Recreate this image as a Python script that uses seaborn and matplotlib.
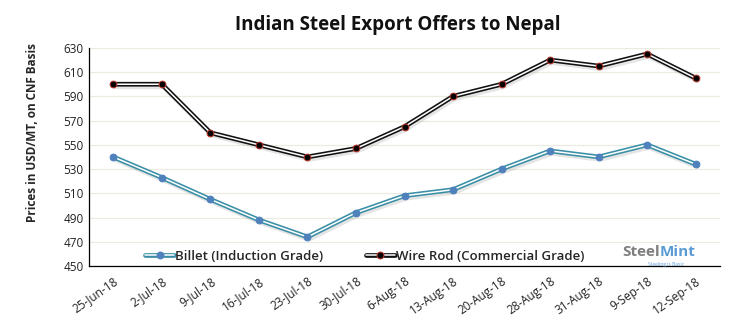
import matplotlib
matplotlib.use("Agg")
import matplotlib.pyplot as plt
import matplotlib.patheffects as pe
from matplotlib.lines import Line2D
import seaborn as sns
import pandas as pd

dates = ["25-Jun-18", "2-Jul-18", "9-Jul-18", "16-Jul-18", "23-Jul-18", "30-Jul-18",
         "6-Aug-18", "13-Aug-18", "20-Aug-18", "28-Aug-18", "31-Aug-18", "9-Sep-18",
         "12-Sep-18"]
billet = [540, 523, 505, 488, 474, 494, 508, 513, 530, 545, 540, 550, 534]
wire_rod = [600, 600, 560, 550, 540, 547, 565, 590, 600, 620, 615, 625, 605]
yticks = list(range(450, 631, 20))

df = pd.DataFrame({"date": dates, "idx": range(len(dates)),
                   "billet": billet, "wire_rod": wire_rod})

sns.set_theme(style="white")
plt.rcParams["font.family"] = ["Open Sans", "DejaVu Sans"]

fig = plt.figure(figsize=(7.32, 3.28), dpi=100)
ax = fig.add_axes([0.1216, 0.189, 0.862, 0.665])

shadow = [pe.SimpleLineShadow(offset=(1.2, -1.8), shadow_color="0.6", alpha=0.25), pe.Normal()]

series = [
    ("billet", "#3A8FA6", "#4F81BD", "#4F81BD", "Billet (Induction Grade)"),
    ("wire_rod", "#111111", "#000000", "#C0392B", "Wire Rod (Commercial Grade)"),
]
handles = []
for col, lc, mfc, mec, label in series:
    sns.lineplot(data=df, x="idx", y=col, ax=ax, color=lc, linewidth=3.4,
                 path_effects=shadow, zorder=3, legend=False)
    sns.lineplot(data=df, x="idx", y=col, ax=ax, color="white", linewidth=1.1,
                 zorder=4, legend=False)
    sns.scatterplot(data=df, x="idx", y=col, ax=ax, color=mfc, edgecolor=mec,
                    linewidth=0.7, s=24, zorder=5, legend=False)
    h = (Line2D([], [], color=lc, lw=3.4),
         Line2D([], [], color="white", lw=1.1),
         Line2D([], [], ls="none", marker="o", ms=5, mfc=mfc, mec=mec, mew=0.7))
    handles.append((h, label))

ax.set_xlim(-0.5, len(dates) - 0.5)
ax.set_ylim(450, 630)
ax.set_yticks(yticks)
ax.set_xticks(range(len(dates)))
ax.set_xticklabels(dates, rotation=35, ha="right", rotation_mode="anchor")
ax.tick_params(axis="both", labelsize=8.5, colors="#222222", length=0, pad=4)
ax.tick_params(axis="x", pad=6)
ax.set_xlabel("")
ax.set_ylabel("Prices in USD/MT, on CNF Basis", fontsize=8.5, fontweight="bold")
ax.yaxis.set_label_coords(-0.080, 0.61)
ax.grid(axis="y", color="#ECEBE2", linewidth=0.9, zorder=0)
ax.set_axisbelow(True)
for s in ("top", "right"):
    ax.spines[s].set_visible(False)
for s in ("left", "bottom"):
    ax.spines[s].set_color("black")
    ax.spines[s].set_linewidth(0.9)

ax.legend([h for h, _ in handles], [l for _, l in handles], loc="lower left",
          bbox_to_anchor=(0.07, -0.04), ncol=2, frameon=False,
          handlelength=2.2, handletextpad=0.1, columnspacing=3.2,
          prop={"weight": "semibold", "size": 9.5})

fig.text(0.543, 0.925, "Indian Steel Export Offers to Nepal", ha="center", va="center",
         fontsize=13.5, fontweight="bold", color="#111111")

# brand mark in the lower right corner
ax.text(0.905, 0.065, "Steel", transform=ax.transAxes, ha="right", va="center",
        fontsize=11, fontweight="bold", color="#7F7F7F")
ax.text(0.905, 0.065, "Mint", transform=ax.transAxes, ha="left", va="center",
        fontsize=11, fontweight="bold", color="#5B9BD5")
ax.text(0.915, 0.005, "Steeling is Basic", transform=ax.transAxes, ha="center",
        va="center", fontsize=3.5, color="#5B9BD5")

fig.savefig("out.png", dpi=100)
